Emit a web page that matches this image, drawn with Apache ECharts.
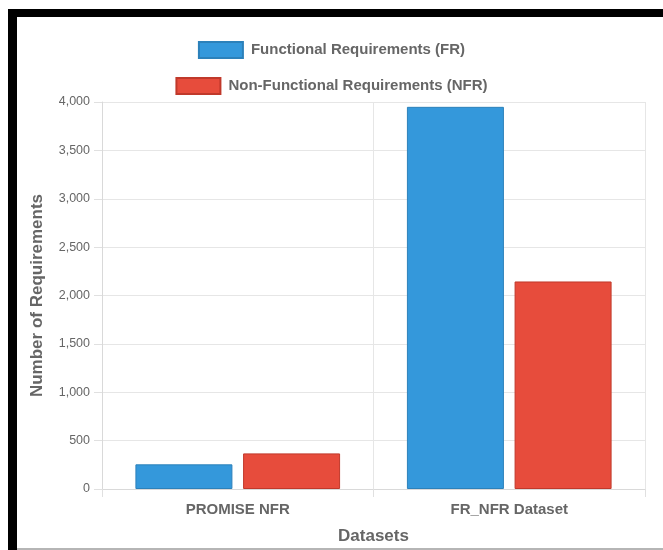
<!DOCTYPE html>
<html>
<head>
<meta charset="utf-8">
<title>Requirements by Dataset</title>
<script src="https://cdn.jsdelivr.net/npm/echarts@6/dist/echarts.min.js"></script>
<style>
  html, body { margin: 0; padding: 0; background: #ffffff; }
  #chart { width: 663px; height: 550px; }
</style>
</head>
<body>
<div id="chart"></div>
<script>
// Dataset names along the x axis
const categories = ['PROMISE NFR', 'FR_NFR Dataset'];

// Requirement counts per dataset
const frCounts = [255, 3950];
const nfrCounts = [368, 2145];

// Series names shown in the legend
const frName = 'Functional Requirements (FR)';
const nfrName = 'Non-Functional Requirements (NFR)';

const FONT = '"Liberation Sans", Arial, Helvetica, sans-serif';
const TEXT = '#666666';
const GRID_LINE = '#e6e6e6';

const chart = echarts.init(document.getElementById('chart'), null, { renderer: 'canvas' });

const legendCommon = {
  left: 'center',
  padding: 0,
  icon: 'rect',
  itemWidth: 44,
  itemHeight: 16,
  itemGap: 10,
  selectedMode: false,
  textStyle: {
    color: TEXT,
    fontFamily: FONT,
    fontSize: 15,
    fontWeight: 'bold',
    padding: [0, 0, 0, 3]
  }
};

chart.setOption({
  animation: false,
  backgroundColor: '#ffffff',
  textStyle: { fontFamily: FONT },
  legend: [
    Object.assign({}, legendCommon, { top: 41, data: [frName] }),
    Object.assign({}, legendCommon, { top: 77, data: [nfrName] })
  ],
  grid: {
    left: 102,
    right: 18,
    top: 102,
    bottom: 61,
    containLabel: false
  },
  xAxis: {
    type: 'category',
    data: categories,
    name: 'Datasets',
    nameLocation: 'middle',
    nameGap: 39,
    nameTextStyle: {
      color: TEXT,
      fontFamily: FONT,
      fontSize: 17,
      fontWeight: 'bold'
    },
    axisLine: { show: true, lineStyle: { color: '#d9d9d9', width: 1 } },
    axisTick: { show: true, length: 8, lineStyle: { color: '#e0e0e0' } },
    axisLabel: {
      color: TEXT,
      fontFamily: FONT,
      fontSize: 15,
      fontWeight: 'bold',
      margin: 13
    },
    splitLine: { show: true, lineStyle: { color: GRID_LINE, width: 1 } }
  },
  yAxis: {
    type: 'value',
    min: 0,
    max: 4000,
    interval: 500,
    name: 'Number of Requirements',
    nameLocation: 'middle',
    nameGap: 56,
    nameTextStyle: {
      color: TEXT,
      fontFamily: FONT,
      fontSize: 17,
      fontWeight: 'bold'
    },
    axisLine: { show: true, lineStyle: { color: '#d9d9d9', width: 1 } },
    axisTick: { show: true, length: 8, lineStyle: { color: '#e0e0e0' } },
    axisLabel: {
      color: TEXT,
      fontFamily: FONT,
      fontSize: 12.5,
      margin: 12,
      formatter: function (v) { return v.toLocaleString('en-US'); }
    },
    splitLine: { show: true, lineStyle: { color: GRID_LINE, width: 1 } }
  },
  series: [
    {
      name: frName,
      type: 'bar',
      data: frCounts,
      barWidth: 97,
      barGap: '11%',
      itemStyle: { color: '#3498db', borderColor: '#2c81ba', borderWidth: 1 }
    },
    {
      name: nfrName,
      type: 'bar',
      data: nfrCounts,
      barWidth: 97,
      itemStyle: { color: '#e74c3c', borderColor: '#c0392b', borderWidth: 1 }
    }
  ],
  graphic: [
    // dark frame along the top and left edges
    { type: 'rect', silent: true, shape: { x: 8, y: 9, width: 655, height: 8 }, style: { fill: '#000000' } },
    { type: 'rect', silent: true, shape: { x: 8, y: 9, width: 9, height: 541 }, style: { fill: '#000000' } },
    // thin grey rule along the bottom edge
    { type: 'rect', silent: true, shape: { x: 17, y: 548, width: 646, height: 2 }, style: { fill: '#b5b5b5' } }
  ]
});
</script>
</body>
</html>
